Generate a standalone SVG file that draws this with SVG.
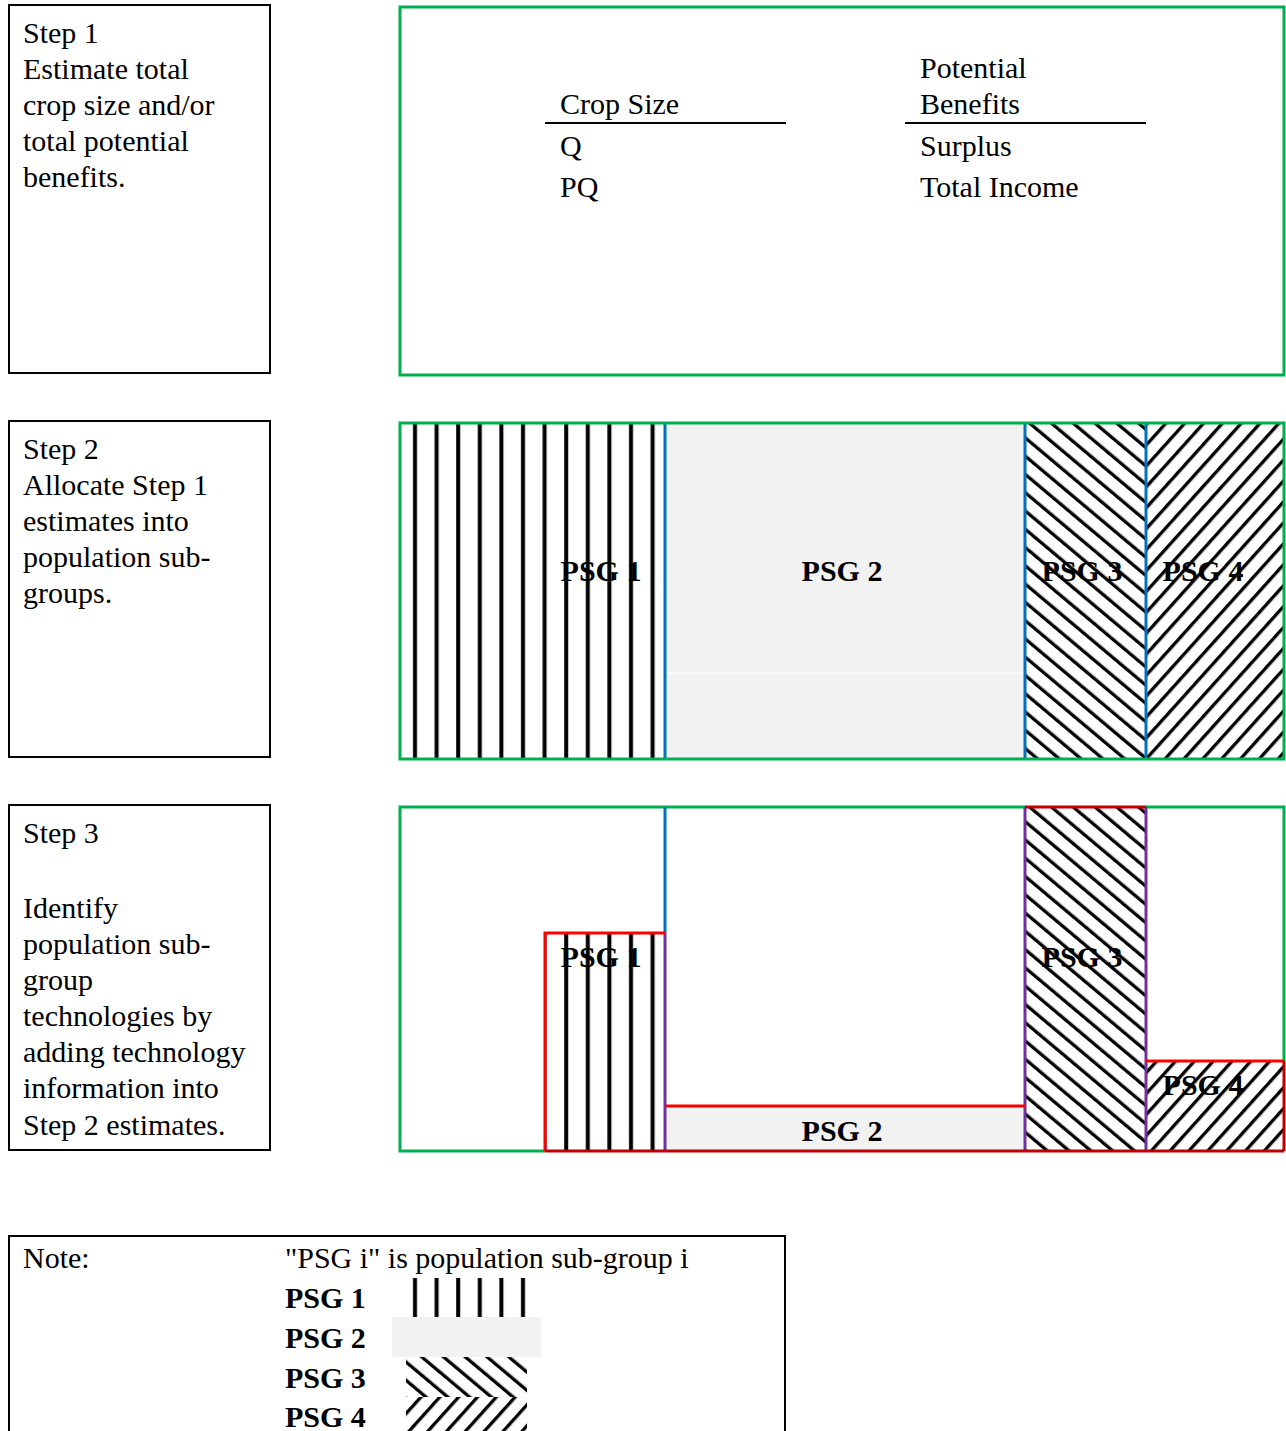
<svg xmlns="http://www.w3.org/2000/svg" width="1286" height="1431" viewBox="0 0 1286 1431">
<style>
.t{font-family:"Liberation Serif",serif;font-size:30px;fill:#000}
.b{font-family:"Liberation Serif",serif;font-size:30px;font-weight:bold;fill:#000}
.box{fill:#fff;stroke:#000;stroke-width:2}
.grn{fill:none;stroke:#00B050;stroke-width:3}
.blu{stroke:#0070C0;stroke-width:3;fill:none}
.pur{stroke:#7030A0;stroke-width:3;fill:none}
.red{stroke:#FF0000;stroke-width:3;fill:none}
.dred{stroke:#C00000;stroke-width:3;fill:none}
.gray{fill:#F2F2F2}
</style>
<defs>
<pattern id="vl" patternUnits="userSpaceOnUse" x="404" y="0" width="21.6" height="40"><rect x="9" y="0" width="4" height="40" fill="#000"/></pattern>
<pattern id="bs" patternUnits="userSpaceOnUse" width="14" height="14" patternTransform="rotate(-50)"><rect x="0" y="0" width="3.3" height="14" fill="#000"/></pattern>
<pattern id="fs" patternUnits="userSpaceOnUse" width="14" height="14" patternTransform="rotate(42)"><rect x="0" y="0" width="3.3" height="14" fill="#000"/></pattern>
</defs>
<rect width="1286" height="1431" fill="#fff"/>

<g id="step1-label">
<rect class="box" x="9" y="5" width="261" height="368"/>
<text class="t" x="23" y="43">Step 1</text>
<text class="t" x="23" y="79">Estimate total</text>
<text class="t" x="23" y="115">crop size and/or</text>
<text class="t" x="23" y="151">total potential</text>
<text class="t" x="23" y="187">benefits.</text>
</g>

<g id="step1-panel">
<rect class="grn" x="400" y="7" width="884" height="368"/>
<text class="t" x="560" y="114">Crop Size</text>
<line x1="545" y1="123" x2="786" y2="123" stroke="#000" stroke-width="2"/>
<text class="t" x="560" y="156">Q</text>
<text class="t" x="560" y="197">PQ</text>
<text class="t" x="920" y="78">Potential</text>
<text class="t" x="920" y="114">Benefits</text>
<line x1="905" y1="123" x2="1146" y2="123" stroke="#000" stroke-width="2"/>
<text class="t" x="920" y="156">Surplus</text>
<text class="t" x="920" y="197">Total Income</text>
</g>

<g id="step2-label">
<rect class="box" x="9" y="421" width="261" height="336"/>
<text class="t" x="23" y="459">Step 2</text>
<text class="t" x="23" y="495">Allocate Step 1</text>
<text class="t" x="23" y="531">estimates into</text>
<text class="t" x="23" y="567">population sub-</text>
<text class="t" x="23" y="603">groups.</text>
</g>

<g id="step2-panel">
<rect x="400" y="423" width="265" height="336" fill="url(#vl)"/>
<rect class="gray" x="665" y="423" width="360" height="336"/>
<line x1="665" y1="673" x2="1025" y2="673" stroke="#fff" stroke-width="1"/>
<rect x="1025" y="423" width="121" height="336" fill="url(#bs)"/>
<rect x="1146" y="423" width="138" height="336" fill="url(#fs)"/>
<line class="blu" x1="665" y1="423" x2="665" y2="759"/>
<line class="blu" x1="1025" y1="423" x2="1025" y2="759"/>
<line class="blu" x1="1146" y1="423" x2="1146" y2="759"/>
<rect class="grn" x="400" y="423" width="884" height="336"/>
<text class="b" x="601" y="581" text-anchor="middle">PSG 1</text>
<text class="b" x="842" y="581" text-anchor="middle">PSG 2</text>
<text class="b" x="1082" y="581" text-anchor="middle">PSG 3</text>
<text class="b" x="1203" y="581" text-anchor="middle">PSG 4</text>
</g>

<g id="step3-label">
<rect class="box" x="9" y="805" width="261" height="345"/>
<text class="t" x="23" y="843">Step 3</text>
<text class="t" x="23" y="918">Identify</text>
<text class="t" x="23" y="954">population sub-</text>
<text class="t" x="23" y="990">group</text>
<text class="t" x="23" y="1026">technologies by</text>
<text class="t" x="23" y="1062">adding technology</text>
<text class="t" x="23" y="1098">information into</text>
<text class="t" x="23" y="1135">Step 2 estimates.</text>
</g>

<g id="step3-panel">
<rect x="545" y="933" width="120" height="218" fill="url(#vl)"/>
<rect class="gray" x="665" y="1106" width="360" height="45"/>
<rect x="1025" y="807" width="121" height="344" fill="url(#bs)"/>
<rect x="1146" y="1061" width="138" height="90" fill="url(#fs)"/>
<path class="grn" d="M545 1151 H400 V807 H1025 M1146 807 H1284 V1061"/>
<line class="blu" x1="665" y1="807" x2="665" y2="933"/>
<line class="pur" x1="665" y1="933" x2="665" y2="1151"/>
<line class="pur" x1="1025" y1="807" x2="1025" y2="1151"/>
<line class="pur" x1="1146" y1="807" x2="1146" y2="1151"/>
<line class="dred" x1="1025" y1="807" x2="1146" y2="807"/>
<path class="red" d="M545 1151 V933 H665"/>
<line class="red" x1="665" y1="1106" x2="1025" y2="1106"/>
<line class="red" x1="1146" y1="1061" x2="1284" y2="1061"/>
<line class="dred" x1="1284" y1="1061" x2="1284" y2="1151"/>
<line class="dred" x1="545" y1="1151" x2="1284" y2="1151"/>
<text class="b" x="601" y="967" text-anchor="middle">PSG 1</text>
<text class="b" x="842" y="1141" text-anchor="middle">PSG 2</text>
<text class="b" x="1082" y="967" text-anchor="middle">PSG 3</text>
<text class="b" x="1203" y="1095" text-anchor="middle">PSG 4</text>
</g>

<g id="note">
<rect class="box" x="9" y="1236" width="776" height="205"/>
<text class="t" x="23" y="1268">Note:</text>
<text class="t" x="285" y="1268">"PSG i" is population sub-group i</text>
<rect x="410" y="1278" width="118" height="39" fill="url(#vl)"/>
<rect class="gray" x="392" y="1317" width="149" height="40"/>
<rect x="406" y="1357" width="121" height="40" fill="url(#bs)"/>
<rect x="406" y="1397" width="121" height="34" fill="url(#fs)"/>
<text class="b" x="285" y="1308">PSG 1</text>
<text class="b" x="285" y="1348">PSG 2</text>
<text class="b" x="285" y="1388">PSG 3</text>
<text class="b" x="285" y="1427">PSG 4</text>
</g>

<g id="connectors"></g>
</svg>
